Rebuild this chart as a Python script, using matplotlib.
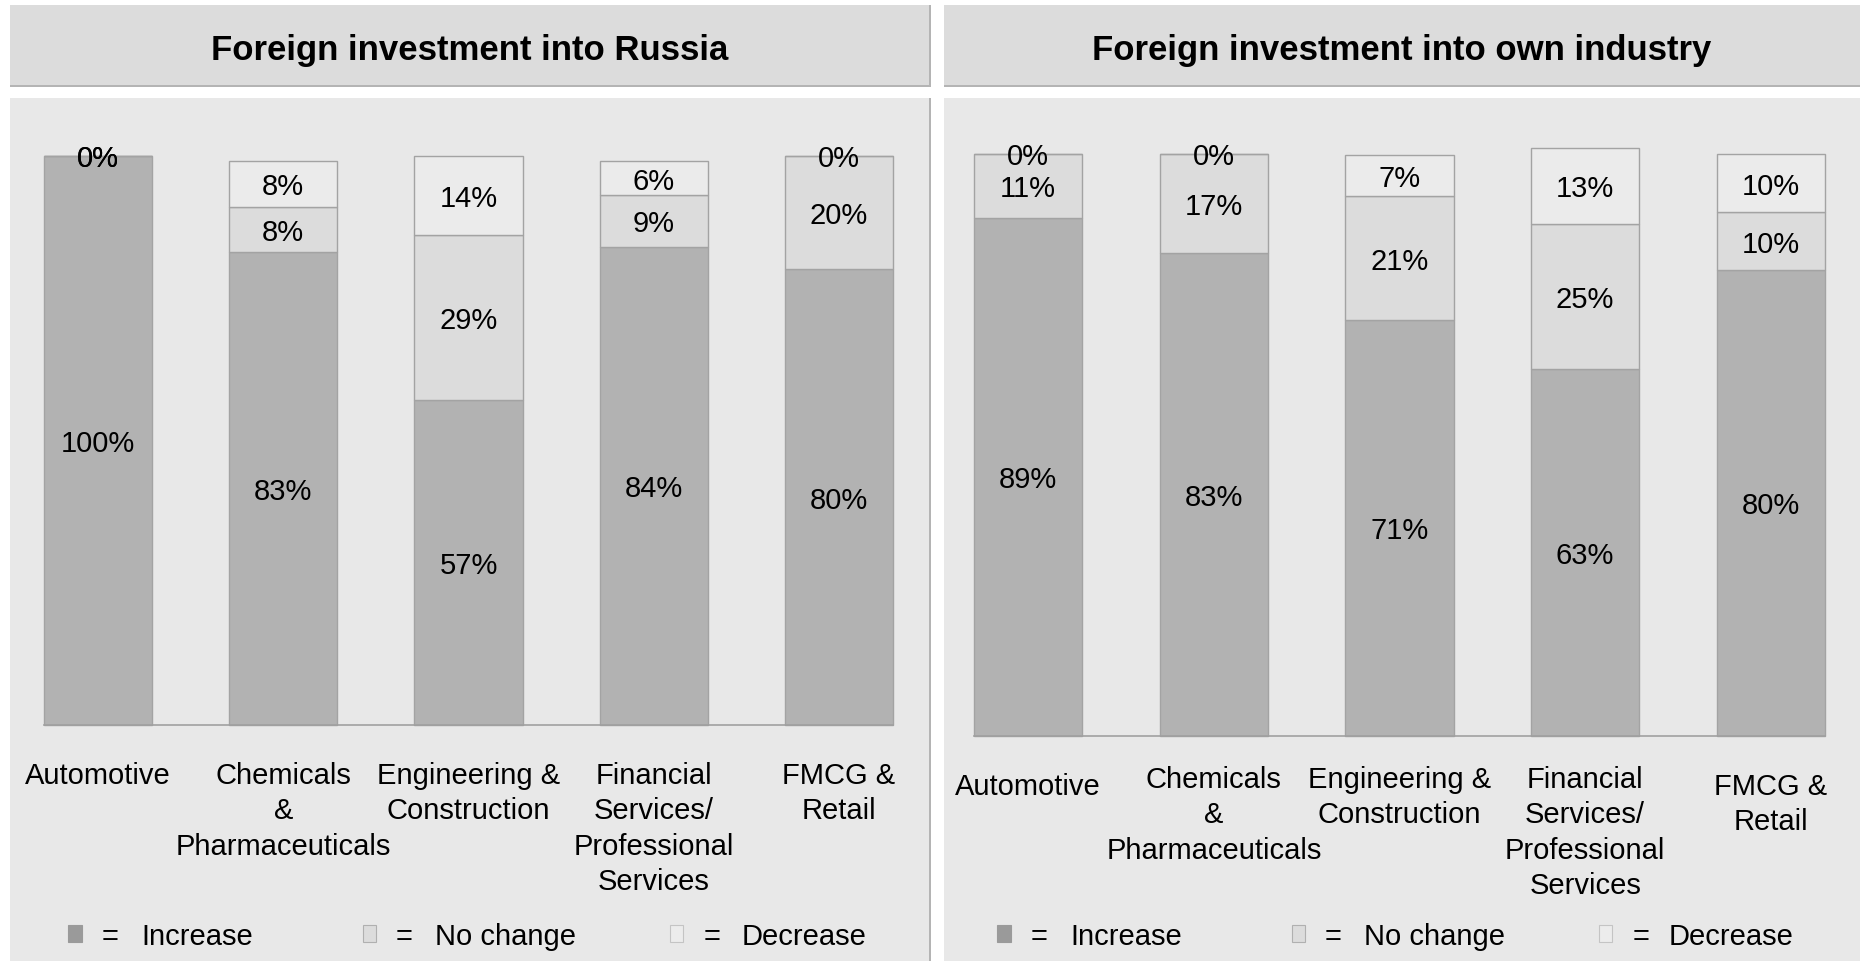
import matplotlib
matplotlib.use('Agg')
import matplotlib.pyplot as plt
from matplotlib.patches import Rectangle
import matplotlib.transforms as mtransforms

plt.rcParams['font.family'] = ['Liberation Sans', 'DejaVu Sans']

# ---------------- data ----------------
categories = ["Automotive",
              "Chemicals\n&\nPharmaceuticals",
              "Engineering &\nConstruction",
              "Financial\nServices/\nProfessional\nServices",
              "FMCG &\nRetail"]
series_names = ["Increase", "No change", "Decrease"]
panel_titles = ["Foreign investment into Russia",
                "Foreign investment into own industry"]

russia_increase = [100, 83, 57, 84, 80]
russia_nochange = [0, 8, 29, 9, 20]
russia_decrease = [0, 8, 14, 6, 0]

own_increase = [89, 83, 71.4, 63, 80]
own_nochange = [11, 17, 21.4, 25, 10]
own_decrease = [0, 0, 7.1, 13, 10]

# ---------------- style ----------------
W, H = 1860, 962
C_INC = '#b2b2b2'
C_NC = '#dcdcdc'
C_DEC = '#ebebeb'
EDGE = '#a3a3a3'
PANEL = '#e8e8e8'
HEADER = '#dcdcdc'
SHADOW = '#b4b4b4'
FS = 21

fig = plt.figure(figsize=(W / 100, H / 100), dpi=100, facecolor='white')


def fy(y):
    return 1 - y / H


def frect(x0, y0, x1, y1, zorder=-2, **kw):
    r = Rectangle((x0 / W, fy(y1)), (x1 - x0) / W, (y1 - y0) / H,
                  transform=fig.transFigure, figure=fig, zorder=zorder, **kw)
    fig.patches.append(r)
    return r


def px_axes(x0, y0, x1, y1):
    return fig.add_axes([x0 / W, fy(y1), (x1 - x0) / W, (y1 - y0) / H])


panels = [
    dict(x0=10, x1=929, ax=(44, 156.5, 893, 726),
         data=(russia_increase, russia_nochange, russia_decrease),
         cat_base=[784, 784, 784, 784, 784],
         leg_marker=[(68, 82), (363, 376), (670, 683)],
         leg_eq=[110, 404, 712], leg_txt=[141, 435, 742]),
    dict(x0=944, x1=1860, ax=(974, 155, 1825, 736.6),
         data=(own_increase, own_nochange, own_decrease),
         cat_base=[795, 788, 788, 788, 795],
         leg_marker=[(997, 1011), (1292, 1305), (1599, 1612)],
         leg_eq=[1039, 1333.5, 1641.5], leg_txt=[1070, 1364, 1669]),
]

for p, title in zip(panels, panel_titles):
    x0, x1 = p['x0'], p['x1']
    # header box with shadow
    frect(x0, 6, x1 + 2, 88, facecolor=SHADOW, edgecolor='none', zorder=-3)
    frect(x0, 6, x1, 86, facecolor=HEADER, edgecolor='none', zorder=-2)
    # panel box with shadow
    frect(x0, 99, x1 + 2, 962, facecolor=SHADOW, edgecolor='none', zorder=-3)
    frect(x0, 99, x1, 962, facecolor=PANEL, edgecolor='none', zorder=-2)
    fig.text((x0 + x1) / 2 / W, fy(60), title, ha='center', va='baseline',
             fontsize=25, fontweight='bold', color='black')

    ax = px_axes(*p['ax'])
    ax.set_zorder(1)
    ax.patch.set_visible(False)
    inc, nc, dec = p['data']
    x = list(range(len(categories)))
    w = 0.583
    bottoms_nc = list(inc)
    bottoms_dec = [a + b for a, b in zip(inc, nc)]
    containers = [
        ax.bar(x, inc, width=w, color=C_INC, edgecolor=EDGE, linewidth=1.0),
        ax.bar(x, nc, width=w, bottom=bottoms_nc, color=C_NC, edgecolor=EDGE, linewidth=1.0),
        ax.bar(x, dec, width=w, bottom=bottoms_dec, color=C_DEC, edgecolor=EDGE, linewidth=1.0),
    ]
    for c in containers:
        for patch in c.patches:
            patch.set_clip_on(False)
    ax.set_xlim(-w / 2, len(categories) - 1 + w / 2)
    ax.set_ylim(0, 100)
    for s in ['top', 'left', 'right']:
        ax.spines[s].set_visible(False)
    ax.spines['bottom'].set_color('#a0a0a0')
    ax.spines['bottom'].set_linewidth(1.2)
    ax.set_xticks([])
    ax.set_yticks([])

    off = mtransforms.offset_copy(ax.transData, fig=fig, y=-0.358 * FS, units='points')
    for i in x:
        for val, bot in ((inc[i], 0), (nc[i], bottoms_nc[i]), (dec[i], bottoms_dec[i])):
            ax.text(i, bot + val / 2, f"{val:.0f}%", transform=off, ha='center',
                    va='baseline', fontsize=FS, color='black', clip_on=False, zorder=5)

    # category labels
    blend = mtransforms.blended_transform_factory(ax.transData, fig.transFigure)
    for i, cat in enumerate(categories):
        for k, line in enumerate(cat.split('\n')):
            ax.text(i, fy(p['cat_base'][i] + k * 35.5), line, transform=blend,
                    ha='center', va='baseline', fontsize=FS, color='black', clip_on=False)

    # legend
    marker_styles = [dict(facecolor='#9a9a9a', edgecolor='#9a9a9a'),
                     dict(facecolor=C_NC, edgecolor='#b0b0b0'),
                     dict(facecolor='#ececec', edgecolor='#c4c4c4')]
    for (mx0, mx1), eqx, tx, name, ms in zip(p['leg_marker'], p['leg_eq'], p['leg_txt'],
                                             series_names, marker_styles):
        frect(mx0, 926, mx1, 943, linewidth=0.8, zorder=2, **ms)
        fig.text(eqx / W, fy(945), '=', ha='center', va='baseline', fontsize=FS)
        fig.text(tx / W, fy(945), name, ha='left', va='baseline', fontsize=FS)

fig.savefig('out.png', dpi=100, facecolor='white')
